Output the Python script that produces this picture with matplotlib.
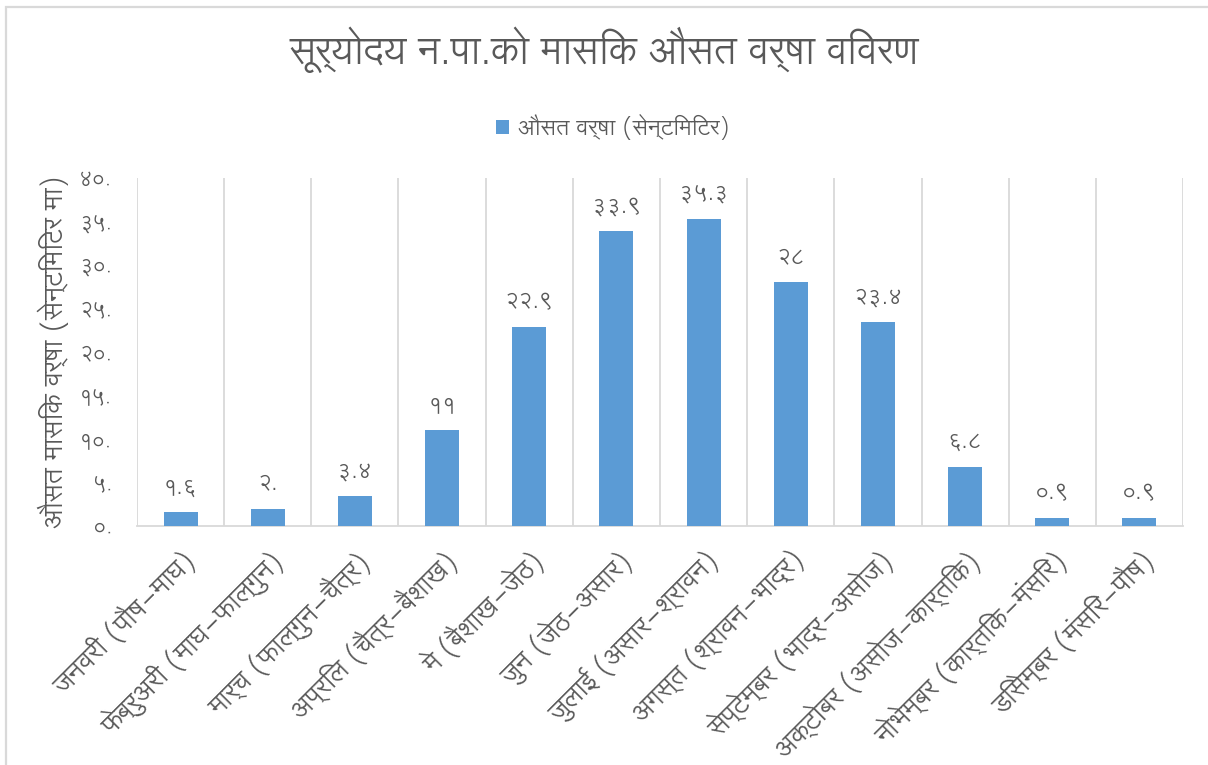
import matplotlib
matplotlib.use("Agg")
import matplotlib.pyplot as plt
from matplotlib.patches import Rectangle
import numpy as np

plt.rcParams['font.family'] = ['Lohit Devanagari', 'Noto Sans Devanagari', 'DejaVu Sans']

title = "सूर्योदय न.पा.को मासिक औसत वर्षा विवरण"
series_name = "औसत वर्षा (सेन्टिमिटर)"
y_label = "औसत मासिक वर्षा (सेन्टिमिटर मा)"
months = [
    "जनवरी (पौष-माघ)",
    "फेब्रुअरी (माघ-फाल्गुन)",
    "मार्च (फाल्गुन-चैत्र)",
    "अप्रिल (चैत्र-बैशाख)",
    "मे (बैशाख-जेठ)",
    "जुन (जेठ-असार)",
    "जुलाई (असार-श्रावन)",
    "अगस्त (श्रावन-भाद्र)",
    "सेप्टेम्बर (भाद्र-असोज)",
    "अक्टोबर (असोज-कार्तिक)",
    "नोभेम्बर (कार्तिक-मंसिर)",
    "डिसेम्बर (मंसिर-पौष)",
]
rain = [1.6, 2.0, 3.4, 11, 22.9, 33.9, 35.3, 28, 23.4, 6.8, 0.9, 0.9]
value_labels = ["१.६", "२.", "३.४", "११", "२२.९", "३३.९", "३५.३", "२८", "२३.४", "६.८", "०.९", "०.९"]
y_ticks = [0, 5, 10, 15, 20, 25, 30, 35, 40]
y_tick_labels = ["०.", "५.", "१०.", "१५.", "२०.", "२५.", "३०.", "३५.", "४०."]

TXT = "#595959"
GRID = "#d9d9d9"
BAR = "#5b9bd5"

fig = plt.figure(figsize=(12.08, 7.65), dpi=100)
ax = fig.add_axes([137/1208, 1-526/765, (1183-137)/1208, (526-178)/765])

x = np.arange(len(months))
bars = ax.bar(x, rain, width=0.39, color=BAR, zorder=3, label=series_name)
ax.set_xlim(-0.5, len(months)-0.5)
ax.set_ylim(0, 40)

for xi, v, lab in zip(x, rain, value_labels):
    ax.annotate(lab, (xi, v), xytext=(0, 10), textcoords='offset points',
                ha='center', va='bottom', fontsize=16, color=TXT)

# vertical gridlines at category boundaries
for b in np.arange(-0.5, len(months)+0.5, 1.0):
    ax.axvline(b, color=GRID, lw=1.3, zorder=1)

ax.set_yticks(y_ticks)
ax.set_yticklabels(y_tick_labels, fontsize=15, color=TXT)
ax.set_xticks(x)
ax.set_xticklabels(months, rotation=45, ha='right', rotation_mode='anchor',
                   fontsize=19, color=TXT)
ax.tick_params(axis='both', length=0)
ax.tick_params(axis='y', pad=18)
ax.tick_params(axis='x', pad=14)
for s in ['top', 'right', 'left']:
    ax.spines[s].set_visible(False)
ax.spines['bottom'].set_color(GRID)
ax.spines['bottom'].set_linewidth(1.3)

ax.set_ylabel(y_label, fontsize=19, color=TXT)
ax.yaxis.set_label_coords(-0.064, 0.5)

fig.text(0.5, 1-50/765, title, ha='center', va='center', fontsize=27.5, color=TXT)

leg = fig.legend(handles=[bars], labels=[series_name], loc='center',
                 bbox_to_anchor=(613/1208, 1-127/765), frameon=False, fontsize=16,
                 handlelength=0.6, handleheight=0.6, handletextpad=0.4)
for t in leg.get_texts():
    t.set_color(TXT)

fig.patches.append(Rectangle((6/1208, -0.05), 1.1, 1.05 - 7/765, transform=fig.transFigure,
                             fill=False, edgecolor=GRID, lw=1.6))

fig.savefig("out.png", dpi=100, facecolor='white')
